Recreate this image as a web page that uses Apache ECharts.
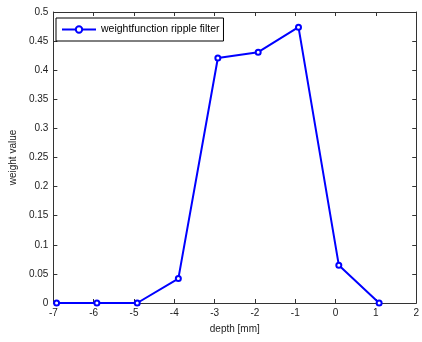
<!DOCTYPE html>
<html><head><meta charset="utf-8">
<script src="https://cdn.jsdelivr.net/npm/echarts@6/dist/echarts.min.js"></script>
<style>html,body{margin:0;padding:0;background:#fff}#c{width:422px;height:342px}</style>
</head><body><div id="c"></div>
<script>
var depth = [-6.92, -5.92, -4.92, -3.9, -2.92, -1.92, -0.92, 0.08, 1.08];
var weight = [0, 0, 0, 0.042, 0.421, 0.431, 0.474, 0.065, 0];
var seriesName = 'weightfunction ripple filter';
var xTitle = 'depth [mm]';
var yTitle = 'weight value';

var data = depth.map(function(d, i){ return [d, weight[i]]; });
var font = 'Liberation Sans, Arial, sans-serif';
var axisCol = '#333';
var chart = echarts.init(document.getElementById('c'));
chart.setOption({
  animation: false,
  grid: {left: 49, right: 2, top: 12, bottom: 39},
  legend: {
    left: 56, top: 18, itemWidth: 34, itemHeight: 8, itemGap: 0,
    borderColor: '#000', borderWidth: 1, padding: [6, 4, 6, 5],
    textStyle: {fontFamily: font, fontSize: 10.5, color: '#000'},
    data: [seriesName]
  },
  xAxis: [{
    type: 'value', min: -7, max: 2, interval: 1,
    name: xTitle, nameLocation: 'middle', nameGap: 21,
    nameTextStyle: {fontFamily: font, fontSize: 10, color: '#222'},
    axisLine: {onZero: false, lineStyle: {color: axisCol, width: 1}},
    axisTick: {inside: true, length: 4, lineStyle: {color: axisCol}},
    axisLabel: {fontFamily: font, fontSize: 10, color: '#222', margin: 5},
    splitLine: {show: false}
  }, {
    type: 'value', position: 'top', min: -7, max: 2, interval: 1,
    axisLine: {show: true, onZero: false, lineStyle: {color: axisCol, width: 1}},
    axisTick: {inside: true, length: 4, lineStyle: {color: axisCol}},
    axisLabel: {show: false}, splitLine: {show: false}
  }],
  yAxis: [{
    type: 'value', min: 0, max: 0.5, interval: 0.05,
    name: yTitle, nameLocation: 'middle', nameGap: 33,
    nameTextStyle: {fontFamily: font, fontSize: 10, color: '#222'},
    axisLine: {show: true, onZero: false, lineStyle: {color: axisCol, width: 1}},
    axisTick: {show: true, inside: true, length: 4, lineStyle: {color: axisCol}},
    axisLabel: {fontFamily: font, fontSize: 10, color: '#222', margin: 5,
      formatter: function(v){ return String(parseFloat(v.toFixed(2))); }},
    splitLine: {show: false}
  }, {
    type: 'value', position: 'right', min: 0, max: 0.5, interval: 0.05,
    axisLine: {show: true, onZero: false, lineStyle: {color: axisCol, width: 1}},
    axisTick: {show: true, inside: true, length: 4, lineStyle: {color: axisCol}},
    axisLabel: {show: false}, splitLine: {show: false}
  }],
  series: [{
    name: seriesName, type: 'line', data: data,
    xAxisIndex: 0, yAxisIndex: 0,
    symbol: 'emptyCircle', symbolSize: 5, showAllSymbol: true,
    lineStyle: {color: '#0000ff', width: 2},
    itemStyle: {color: '#0000ff', borderColor: '#0000ff', borderWidth: 1.5}
  }]
});
</script></body></html>
